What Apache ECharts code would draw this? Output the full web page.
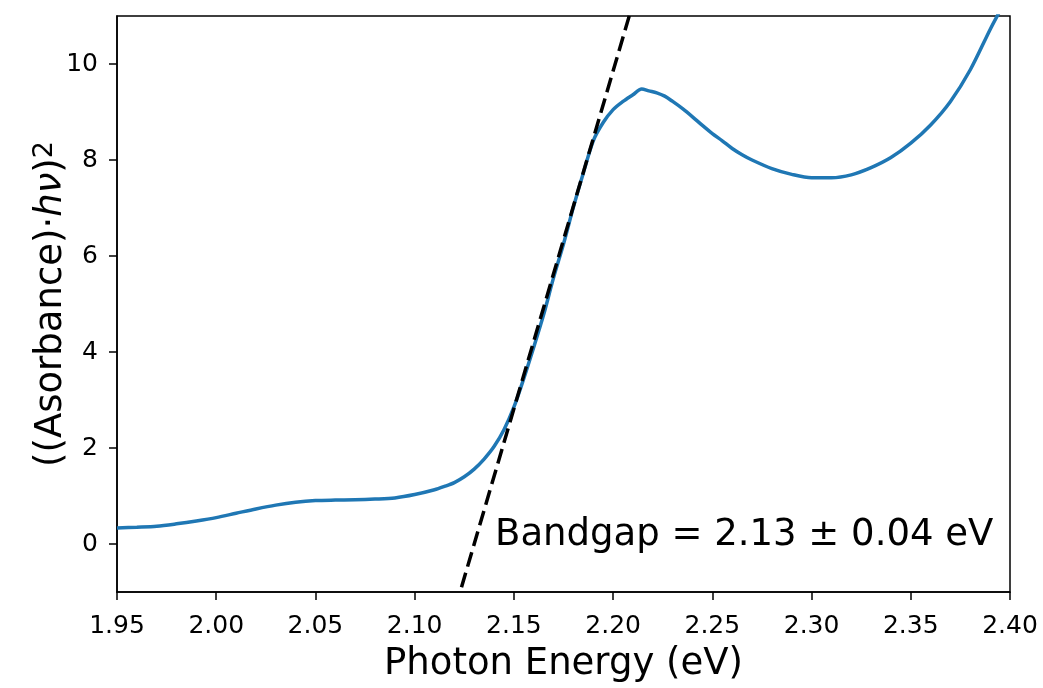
<!DOCTYPE html>
<html>
<head>
<meta charset="utf-8">
<script src="https://cdn.jsdelivr.net/npm/echarts@6/dist/echarts.min.js"></script>
<style>
html,body{margin:0;padding:0;background:#fff;}
#chart{width:1043px;height:688px;}
</style>
</head>
<body>
<div id="chart"></div>
<script>
// Photon energy (eV)
const energy = [1.95,1.96,1.97,1.98,1.99,2.00,2.01,2.02,2.03,2.04,2.05,2.06,2.07,2.08,2.09,2.10,2.11,2.115,2.12,2.125,2.13,2.135,2.14,2.145,2.15,2.155,2.16,2.165,2.17,2.175,2.18,2.185,2.19,2.195,2.20,2.205,2.21,2.2144,2.218,2.222,2.226,2.23,2.235,2.24,2.245,2.25,2.255,2.26,2.265,2.27,2.28,2.29,2.30,2.31,2.32,2.33,2.34,2.35,2.36,2.37,2.38,2.39,2.3955];
// ((Absorbance)·hν)^2
const tauc = [0.335,0.35,0.37,0.42,0.48,0.55,0.64,0.73,0.81,0.87,0.905,0.915,0.92,0.935,0.96,1.03,1.13,1.20,1.28,1.40,1.56,1.77,2.03,2.38,2.85,3.45,4.10,4.78,5.55,6.25,7.02,7.73,8.40,8.78,9.05,9.22,9.36,9.48,9.44,9.40,9.33,9.22,9.07,8.90,8.72,8.55,8.40,8.24,8.11,8.00,7.82,7.70,7.63,7.63,7.69,7.84,8.05,8.35,8.73,9.22,9.88,10.72,11.15];
// Linear fit (Tauc extrapolation)
const bandgap = 2.13;
const bandgapErr = 0.04;
const fitSlope = 140.8;
const fitRange = [2.1236, 2.2085];
const xTicks = [1.95,2.00,2.05,2.10,2.15,2.20,2.25,2.30,2.35,2.40];
const yTicks = [0,2,4,6,8,10];
const annotationPos = [2.1405, 0.18];

const curve = energy.map((e,i)=>[e,tauc[i]]);
const fit = fitRange.map(x=>[x, fitSlope*(x-bandgap)]);

const font = 'DejaVu Sans';
const chart = echarts.init(document.getElementById('chart'), null, {renderer:'canvas'});
chart.setOption({
  animation:false,
  backgroundColor:'#fff',
  grid:{left:117,right:33,top:16,bottom:92,show:true,borderColor:'#000',borderWidth:1.5,backgroundColor:'transparent'},
  xAxis:{
    type:'value',min:1.95,max:2.40,
    axisLine:{show:true,onZero:false,lineStyle:{color:'#000',width:1.5}},
    axisTick:{show:true,length:8,lineStyle:{color:'#000',width:1.5},customValues:xTicks},
    axisLabel:{show:true,margin:22,color:'#000',fontFamily:font,fontSize:25,customValues:xTicks,formatter:v=>v.toFixed(2)},
    splitLine:{show:false},
    name:'Photon Energy (eV)',nameLocation:'middle',nameGap:54,nameMoveOverlap:false,
    nameTextStyle:{color:'#000',fontFamily:font,fontSize:37}
  },
  yAxis:{
    type:'value',min:-1,max:11,
    axisLine:{show:true,onZero:false,lineStyle:{color:'#000',width:1.5}},
    axisTick:{show:true,length:8,lineStyle:{color:'#000',width:1.5},customValues:yTicks},
    axisLabel:{show:true,margin:19,color:'#000',fontFamily:font,fontSize:25,customValues:yTicks},
    splitLine:{show:false},
    name:'{r|((Asorbance)·}{i|hν}{r|)}{s|2}',nameLocation:'middle',nameGap:45,nameRotate:90,nameMoveOverlap:false,
    nameTextStyle:{color:'#000',fontFamily:font,fontSize:37,
      rich:{r:{fontFamily:font,fontSize:37,color:'#000'},i:{fontFamily:font,fontSize:37,fontStyle:'italic',color:'#000'},s:{fontFamily:font,fontSize:27,color:'#000',verticalAlign:'top',padding:[0,0,14,0]}}}
  },
  series:[
    {type:'line',data:curve,showSymbol:false,smooth:0.3,lineStyle:{color:'#1f77b4',width:3.5},clip:true,silent:true,z:2},
    {type:'line',data:fit,showSymbol:false,lineStyle:{color:'#000',width:3.5,type:[15,6.5]},clip:true,silent:true,z:3},
    {type:'scatter',data:[annotationPos],symbolSize:0,silent:true,z:4,itemStyle:{opacity:1},
      label:{show:true,opacity:1,position:[0,0],align:'left',verticalAlign:'middle',color:'#000',fontFamily:font,fontSize:37,
        formatter:()=>'Bandgap = '+bandgap.toFixed(2)+' ± '+bandgapErr.toFixed(2)+' eV'}}
  ]
});
</script>
</body>
</html>
